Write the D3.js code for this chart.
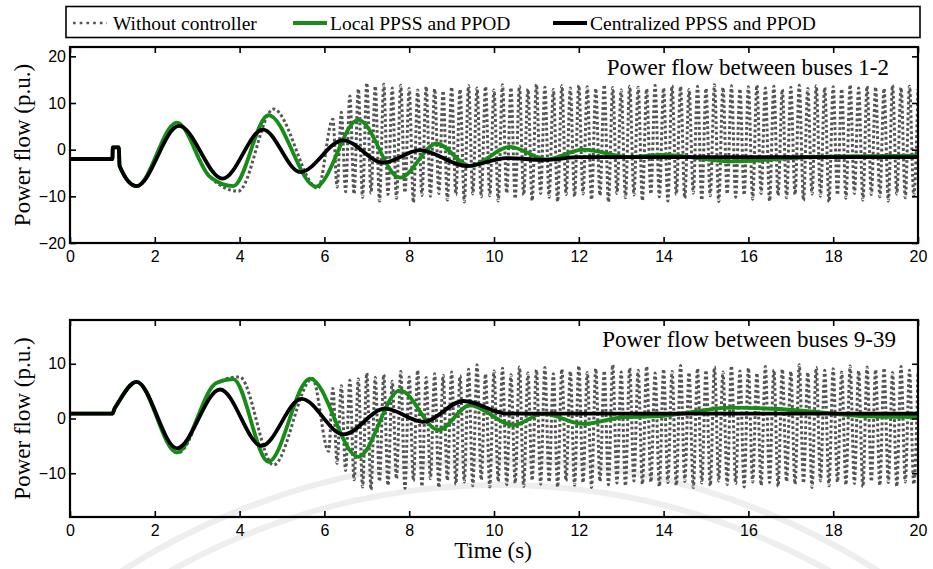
<!DOCTYPE html>
<html lang="en">
<head>
<meta charset="UTF-8">
<title>Power flow between buses</title>
<script src="https://d3js.org/d3.v7.min.js"></script>
<style>
  body { margin: 0; background: #fff; }
  svg { display: block; }
  .tick text { font-family: "Liberation Sans", Arial, sans-serif; font-size: 16px; fill: #000; }
</style>
</head>
<body>
<svg width="933" height="569"></svg>
<script>
// ---- data ----
const timeTicks = [0, 2, 4, 6, 8, 10, 12, 14, 16, 18, 20];
const topYTicks = [-20, -10, 0, 10, 20];
const bottomYTicks = [-10, 0, 10];
const seriesNames = ['Without controller', 'Local PPSS and PPOD', 'Centralized PPSS and PPOD'];
const panelTitles = ['Power flow between buses 1-2', 'Power flow between buses 9-39'];

// buses 1-2, [time, p.u.]
const topNoCtrl = [
  [0, -2], [1.0, -2], [1.01, 0.5], [1.15, 0.5], [1.17, -3.5], [1.57, -7.8], [2.52, 5.8], [3.3, -5.8],
  [3.97, -8.9], [4.8, 8.7], [5.85, -8.3],
  [6.2, 6.5], [6.3, -8.0], [6.4, 8.0], [6.5, -9.0], [6.6, 11.5], [6.7, -9.5], [6.8, 13.0], [6.9, -10.2],
  [7.0, 14.3], [7.1, -9.3], [7.2, 13.6], [7.3, -11.0], [7.4, 14.0], [7.5, -9.6], [7.6, 13.2], [7.7, -10.4],
  [7.8, 13.8], [7.9, -9.2], [8.0, 13.1], [8.1, -11.3], [8.2, 12.8], [8.3, -9.8], [8.4, 13.5], [8.5, -10.0],
  [8.6, 13.0], [8.7, -9.4], [8.8, 12.6], [8.9, -10.8], [9.0, 13.4], [9.1, -9.6], [9.2, 12.9], [9.3, -11.2],
  [9.4, 13.7], [9.5, -9.5], [9.6, 13.2], [9.7, -10.1], [9.8, 13.5], [9.9, -9.9], [10.0, 12.8], [10.1, -11.0],
  [10.2, 13.9], [10.3, -9.3], [10.4, 13.3], [10.5, -10.5], [10.6, 13.6], [10.7, -9.7], [10.8, 13.0],
  [10.9, -10.9], [11.0, 14.0], [11.1, -9.4], [11.2, 13.4], [11.3, -10.2], [11.4, 12.9], [11.5, -11.1],
  [11.6, 13.7], [11.7, -9.6], [11.8, 13.2], [11.9, -10.0], [12.0, 13.8], [12.1, -9.5], [12.2, 13.5],
  [12.3, -10.7], [12.4, 13.1], [12.5, -9.8], [12.6, 13.9], [12.7, -11.2], [12.8, 13.3], [12.9, -9.4],
  [13.0, 12.8], [13.1, -10.3], [13.2, 13.6], [13.3, -9.7], [13.4, 13.4], [13.5, -10.9], [13.6, 13.0],
  [13.7, -9.5], [13.8, 13.8], [13.9, -10.1], [14.0, 13.2], [14.1, -11.0], [14.2, 13.7], [14.3, -9.6],
  [14.4, 13.5], [14.5, -10.4], [14.6, 12.9], [14.7, -9.3], [14.8, 13.6], [14.9, -10.8], [15.0, 13.1],
  [15.1, -9.9], [15.2, 13.9], [15.3, -11.1], [15.4, 13.3], [15.5, -9.5], [15.6, 13.7], [15.7, -10.2],
  [15.8, 13.0], [15.9, -9.7], [16.0, 13.5], [16.1, -10.6], [16.2, 13.8], [16.3, -9.4], [16.4, 13.2],
  [16.5, -11.0], [16.6, 13.6], [16.7, -9.8], [16.8, 12.9], [16.9, -10.3], [17.0, 13.4], [17.1, -9.6],
  [17.2, 13.8], [17.3, -10.9], [17.4, 13.1], [17.5, -9.5], [17.6, 13.7], [17.7, -10.0], [17.8, 13.3],
  [17.9, -11.2], [18.0, 13.5], [18.1, -9.7], [18.2, 13.0], [18.3, -10.4], [18.4, 13.9], [18.5, -9.4],
  [18.6, 13.2], [18.7, -10.8], [18.8, 13.6], [18.9, -9.6], [19.0, 13.4], [19.1, -10.1], [19.2, 13.1],
  [19.3, -11.0], [19.4, 13.8], [19.5, -9.5], [19.6, 13.3], [19.7, -10.3], [19.8, 13.6], [19.9, -9.8],
  [20.0, 13.0]
];
const topLocal = [
  [0, -2], [1.0, -2], [1.01, 0.5], [1.15, 0.5], [1.17, -3.5], [1.57, -7.8], [2.52, 5.8], [3.3, -5.8],
  [3.85, -7.8], [4.68, 7.4], [5.8, -7.9], [6.8, 6.4], [7.78, -6.0], [8.65, 1.3], [9.43, -3.5],
  [10.38, 0.6], [11.24, -2.1], [12.1, 0.0], [13.2, -1.6], [14.0, -1.1], [15.6, -2.5], [17.5, -1.6],
  [20, -1.3]
];
const topCentral = [
  [0, -2], [1.0, -2], [1.01, 0.5], [1.15, 0.5], [1.17, -3.5], [1.57, -7.8], [2.57, 5.1], [3.6, -6.2],
  [4.55, 4.3], [5.43, -4.8], [6.44, 2.0], [7.39, -2.8], [8.25, -0.1], [9.35, -3.5], [10.3, -1.8],
  [11.2, -2.2], [12.0, -1.6], [20, -1.6]
];

// buses 9-39, [time, p.u.]
const botNoCtrl = [
  [0, 0.9], [1.0, 0.9], [1.05, 1.8], [1.12, 2.7], [1.57, 6.7], [2.55, -6.3], [3.45, 6.5], [4.0, 7.6],
  [4.8, -8.5], [5.72, 7.3],
  [6.1, -6.0], [6.2, 5.5], [6.3, -8.2], [6.4, 6.0], [6.5, -9.5], [6.6, 7.0], [6.7, -11.2], [6.8, 7.2],
  [6.9, -12.5], [7.0, 8.3], [7.1, -13.0], [7.2, 7.5], [7.3, -11.5], [7.4, 8.0], [7.5, -12.2], [7.6, 6.8],
  [7.7, -11.0], [7.8, 8.6], [7.9, -12.8], [8.0, 7.6], [8.1, -11.4], [8.2, 8.8], [8.3, -12.4], [8.4, 7.5],
  [8.5, -11.0], [8.6, 8.2], [8.7, -12.6], [8.8, 7.9], [8.9, -11.3], [9.0, 8.5], [9.1, -12.0], [9.2, 7.8],
  [9.3, -11.6], [9.4, 9.0], [9.5, -12.3], [9.6, 9.8], [9.7, -11.2], [9.8, 8.1], [9.9, -12.5], [10.0, 8.7],
  [10.1, -11.5], [10.2, 9.2], [10.3, -12.1], [10.4, 8.0], [10.5, -11.8], [10.6, 9.4], [10.7, -12.4],
  [10.8, 8.3], [10.9, -11.3], [11.0, 8.9], [11.1, -12.0], [11.2, 9.3], [11.3, -11.6], [11.4, 8.2],
  [11.5, -12.5], [11.6, 9.0], [11.7, -11.4], [11.8, 8.6], [11.9, -12.2], [12.0, 9.6], [12.1, -11.7],
  [12.2, 8.4], [12.3, -12.6], [12.4, 9.1], [12.5, -11.5], [12.6, 8.7], [12.7, -12.1], [12.8, 9.8],
  [12.9, -11.8], [13.0, 8.5], [13.1, -12.3], [13.2, 9.2], [13.3, -11.4], [13.4, 8.8], [13.5, -12.0],
  [13.6, 9.5], [13.7, -11.6], [13.8, 8.3], [13.9, -12.4], [14.0, 9.0], [14.1, -11.7], [14.2, 8.6],
  [14.3, -12.2], [14.4, 9.7], [14.5, -11.5], [14.6, 8.4], [14.7, -12.6], [14.8, 9.1], [14.9, -11.8],
  [15.0, 8.8], [15.1, -12.3], [15.2, 9.4], [15.3, -11.4], [15.4, 8.5], [15.5, -12.1], [15.6, 9.6],
  [15.7, -11.9], [15.8, 8.7], [15.9, -12.5], [16.0, 9.2], [16.1, -11.6], [16.2, 8.3], [16.3, -12.2],
  [16.4, 9.5], [16.5, -11.7], [16.6, 8.9], [16.7, -12.4], [16.8, 9.0], [16.9, -11.5], [17.0, 8.6],
  [17.1, -12.0], [17.2, 9.8], [17.3, -11.8], [17.4, 8.4], [17.5, -12.6], [17.6, 9.3], [17.7, -11.4],
  [17.8, 8.8], [17.9, -12.3], [18.0, 9.1], [18.1, -11.6], [18.2, 8.5], [18.3, -12.1], [18.4, 9.6],
  [18.5, -11.9], [18.6, 8.7], [18.7, -12.5], [18.8, 9.4], [18.9, -11.5], [19.0, 8.9], [19.1, -12.2],
  [19.2, 9.2], [19.3, -11.7], [19.4, 8.4], [19.5, -12.4], [19.6, 9.5], [19.7, -11.6], [19.8, 8.8],
  [19.9, -12.0], [20.0, 8.6]
];
const botLocal = [
  [0, 0.9], [1.0, 0.9], [1.05, 1.8], [1.12, 2.7], [1.57, 6.7], [2.52, -6.2], [3.45, 6.5], [3.85, 7.2],
  [4.68, -7.9], [5.66, 7.3], [6.8, -7.0], [7.78, 5.15], [8.69, -2.1], [9.43, 2.4], [10.46, -1.2],
  [11.16, 0.9], [12.1, -1.0], [13.0, 0.2], [14.0, 0.5], [15.6, 2.0], [17.2, 1.5], [18.8, 0.4],
  [20, 0.3]
];
const botCentral = [
  [0, 0.9], [1.0, 0.9], [1.05, 1.8], [1.12, 2.7], [1.57, 6.7], [2.52, -5.45], [3.54, 5.3],
  [4.52, -5.0], [5.46, 3.6], [6.45, -2.9], [7.43, 1.8], [8.33, -0.6], [9.28, 3.2], [10.3, 0.9],
  [20, 0.9]
];

// ---- drawing ----
const serif = '"Liberation Serif", "Times New Roman", Times, serif';
const svg = d3.select('svg');
const left = 70, right = 918;
const x = d3.scaleLinear().domain([0, 20]).range([left, right]);

const styles = [
  { stroke: '#555555', width: 3, dash: '2.8,2.5' },
  { stroke: '#178c17', width: 3.8, dash: null },
  { stroke: '#000000', width: 3.8, dash: null }
];

// faint watermark arcs from the scanned page
const wm = svg.append('g').attr('fill', 'none').attr('stroke', '#eeeeee').attr('stroke-width', 6);
[699, 674].forEach(r => {
  wm.append('path').attr('d', d3.arc()({ innerRadius: r, outerRadius: r, startAngle: -0.75, endAngle: 0.75 }))
    .attr('transform', 'translate(500,1159)');
});

function drawPanel(id, top, bottom, yDomain, yTicks, series, title, titleX, titleY) {
  const y = d3.scaleLinear().domain(yDomain).range([bottom, top]);
  const g = svg.append('g');

  g.append('clipPath').attr('id', 'clip' + id)
    .append('rect').attr('x', left).attr('y', top).attr('width', right - left).attr('height', bottom - top);

  const line = d3.line().x(d => x(d[0])).y(d => y(d[1])).curve(d3.curveMonotoneX);
  const lines = g.append('g').attr('clip-path', `url(#clip${id})`);
  series.forEach((s, i) => {
    lines.append('path')
      .datum(s)
      .attr('d', line)
      .attr('fill', 'none')
      .attr('stroke', styles[i].stroke)
      .attr('stroke-width', styles[i].width)
      .attr('stroke-dasharray', styles[i].dash)
      .attr('stroke-linejoin', 'round');
  });

  // axes with inward ticks on all four sides
  g.append('g').attr('transform', `translate(0,${bottom})`)
    .call(d3.axisBottom(x).tickValues(timeTicks).tickSizeInner(-6).tickSizeOuter(0).tickPadding(8));
  g.append('g').attr('transform', `translate(0,${top})`)
    .call(d3.axisTop(x).tickValues(timeTicks).tickSizeInner(-6).tickSizeOuter(0).tickFormat(''));
  g.append('g').attr('transform', `translate(${left},0)`)
    .call(d3.axisLeft(y).tickValues(yTicks).tickSizeInner(-6).tickSizeOuter(0).tickPadding(4));
  g.append('g').attr('transform', `translate(${right},0)`)
    .call(d3.axisRight(y).tickValues(yTicks).tickSizeInner(-6).tickSizeOuter(0).tickFormat(''));
  g.selectAll('.domain').remove();
  g.selectAll('.tick line').attr('stroke', '#000').attr('stroke-width', 1.6);

  g.append('rect')
    .attr('x', left).attr('y', top).attr('width', right - left).attr('height', bottom - top)
    .attr('fill', 'none').attr('stroke', '#000').attr('stroke-width', 2.2);

  g.append('text')
    .attr('x', titleX).attr('y', titleY).attr('text-anchor', 'end')
    .style('font-family', serif).style('font-size', '23px').text(title);

  g.append('text')
    .attr('transform', `translate(30,${(top + bottom) / 2}) rotate(-90)`)
    .attr('text-anchor', 'middle')
    .style('font-family', serif).style('font-size', '23px')
    .text('Power flow (p.u.)');
}

drawPanel(1, 47, 243, [-20, 22], topYTicks, [topNoCtrl, topLocal, topCentral], panelTitles[0], 889, 75);
drawPanel(2, 320, 517, [-18, 18], bottomYTicks, [botNoCtrl, botLocal, botCentral], panelTitles[1], 896, 347);

svg.append('text')
  .attr('x', 493).attr('y', 558).attr('text-anchor', 'middle')
  .style('font-family', serif).style('font-size', '23px').text('Time (s)');

// legend
const legend = svg.append('g');
legend.append('rect').attr('x', 66).attr('y', 6.5).attr('width', 854).attr('height', 31)
  .attr('fill', '#fff').attr('stroke', '#000').attr('stroke-width', 1.6);
const legendPos = [73, 293, 553];
seriesNames.forEach((name, i) => {
  legend.append('line')
    .attr('x1', legendPos[i]).attr('x2', legendPos[i] + 34).attr('y1', 23).attr('y2', 23)
    .attr('stroke', styles[i].stroke)
    .attr('stroke-width', i === 0 ? 2.6 : 3.8)
    .attr('stroke-dasharray', i === 0 ? '2.7,4' : null);
  legend.append('text')
    .attr('x', legendPos[i] + (i === 0 ? 40 : 37)).attr('y', 30)
    .style('font-family', serif).style('font-size', '19.5px').text(name);
});
</script>
</body>
</html>
